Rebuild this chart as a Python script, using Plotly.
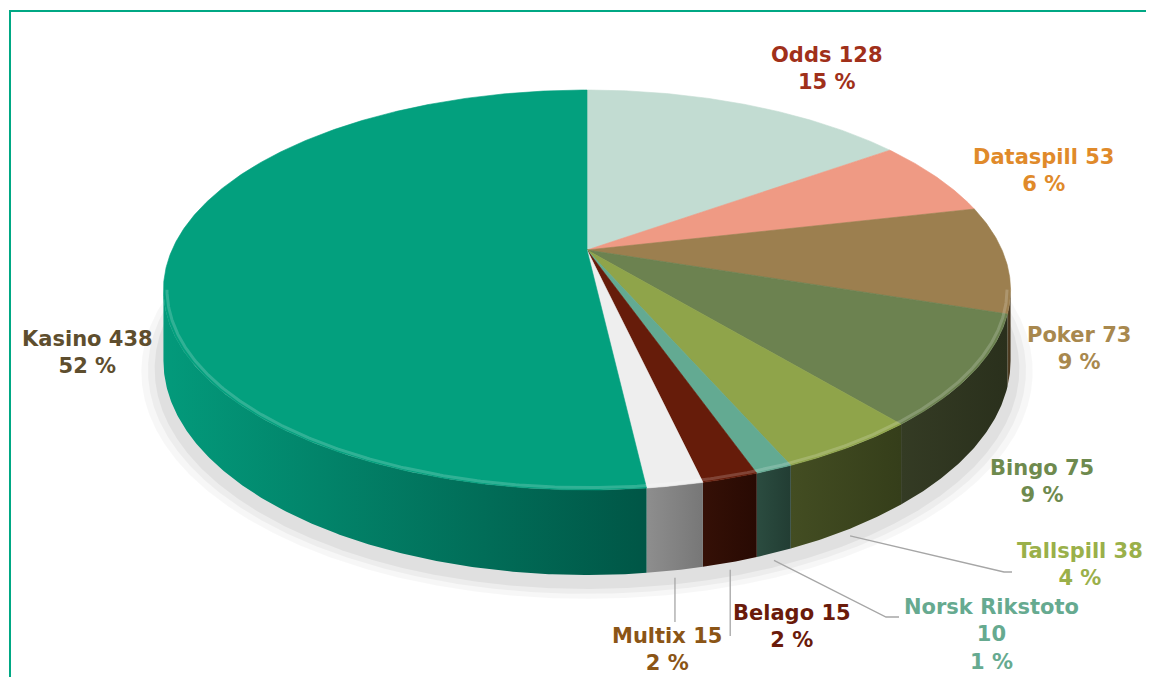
import math
import plotly.graph_objects as go

# ---------------- data ----------------
categories = ["Odds", "Dataspill", "Poker", "Bingo", "Tallspill",
              "Norsk Rikstoto", "Belago", "Multix", "Kasino"]
values = [128, 53, 73, 75, 38, 10, 15, 15, 438]

# ---------------- styles ----------------
top_colors = ["#C2DCD2", "#EF9A84", "#9C7F4F", "#6C8250", "#8FA44A",
              "#63AA92", "#661C0A", "#EEEEEE", "#03A07E"]
wall_light = ["#8FA8A0", "#B06A58", "#5A4628", "#343B24", "#434D22",
              "#2B4C40", "#351006", "#8E8E8E", "#039A7B"]
wall_dark = ["#7A928A", "#985848", "#3E301A", "#2A301C", "#353E1A",
             "#223D33", "#280A03", "#777777", "#005646"]
label_colors = ["#A0301A", "#E08A2A", "#A8884E", "#6E8A4E", "#9AB04A",
                "#66AA90", "#6A1A0A", "#8B5516", "#5E4E2E"]

# label block centres (page pixels) and leader-line end points
label_pos = [(827, 68), (1043, 170), (1079, 348), (1042, 481), (1080, 564),
             (991, 634), (792, 626), (667, 649), (87, 352)]
leader_end = [None, None, None, None, [(1004, 572), (1012, 572)],
              [(886, 617), (899, 617)], [(None, 636)], [(None, 622)], None]

# geometry of the projected 3-D pie (page pixels)
CX, CY = 587, 250      # projected pie centre
A, B = 415, 192        # horizontal / depth radii
P = 0.2                # perspective factor
DEPTH = 68             # thickness

def proj(theta, r=1.0, drop=0.0):
    X = r * math.sin(theta)
    Z = r * math.cos(theta)
    w = 1 + P * Z
    return CX + A * X / w, CY + (-B * Z + drop) / w

def arc(t1, t2, r=1.0, drop=0.0, step=0.4):
    n = max(2, int(abs(math.degrees(t2 - t1)) / step) + 1)
    pts = [proj(t1 + (t2 - t1) * i / (n - 1), r, drop) for i in range(n)]
    return [p[0] for p in pts], [p[1] for p in pts]

total = sum(values)
bounds = []
acc = 0
for v in values:
    t1 = 2 * math.pi * acc / total
    acc += v
    t2 = 2 * math.pi * acc / total
    bounds.append((t1, t2))

vis_lo = math.acos(-P)
vis_hi = 2 * math.pi - vis_lo

fig = go.Figure()

# soft drop shadow under the pie
for grow, alpha in [(1.05, 0.03), (1.035, 0.04), (1.02, 0.05)]:
    xs, ys = arc(0, 2 * math.pi, r=grow, drop=DEPTH + 6)
    fig.add_trace(go.Scatter(x=xs, y=ys, fill="toself", mode="lines",
                             line=dict(width=0), fillcolor=f"rgba(0,0,0,{alpha})",
                             hoverinfo="skip", showlegend=False))

# side walls (front-facing part only)
for i, (t1, t2) in enumerate(bounds):
    a1, a2 = max(t1, vis_lo), min(t2, vis_hi)
    if a2 <= a1:
        continue
    xt, yt = arc(a1, a2)
    xb, yb = arc(a1, a2, drop=DEPTH)
    xs = xt + xb[::-1] + [xt[0]]
    ys = yt + yb[::-1] + [yt[0]]
    fig.add_trace(go.Scatter(
        x=xs, y=ys, fill="toself", mode="lines", line=dict(width=0),
        fillgradient=dict(type="horizontal",
                          colorscale=[[0, wall_light[i]], [1, wall_dark[i]]]),
        hoverinfo="skip", showlegend=False))

# top faces
for i, (t1, t2) in enumerate(bounds):
    xa, ya = arc(t1, t2)
    xs = [CX] + xa + [CX]
    ys = [CY] + ya + [CY]
    fig.add_trace(go.Scatter(
        x=xs, y=ys, fill="toself", mode="lines",
        line=dict(width=0.6, color=top_colors[i]), fillcolor=top_colors[i],
        name=categories[i], hoverinfo="name", showlegend=False))

# rim highlight along the front edge of the top face
xh, yh = arc(vis_lo, vis_hi, r=0.992)
fig.add_trace(go.Scatter(x=xh, y=yh, mode="lines",
                         line=dict(color="rgba(255,255,255,0.18)", width=3),
                         hoverinfo="skip", showlegend=False))

# leader lines
for i, (t1, t2) in enumerate(bounds):
    if leader_end[i] is None:
        continue
    tm = (t1 + t2) / 2
    sx, sy = proj(tm, r=1.0, drop=DEPTH + 6)
    lx, ly = [sx], [sy]
    for ex, ey in leader_end[i]:
        lx.append(sx if ex is None else ex)
        ly.append(ey)
    fig.add_trace(go.Scatter(x=lx, y=ly, mode="lines",
                             line=dict(color="#A6A6A6", width=1.3),
                             hoverinfo="skip", showlegend=False))

# labels
annotations = []
for i, (c, v) in enumerate(zip(categories, values)):
    pct = round(v / total * 100)
    if c == "Norsk Rikstoto":
        txt = f"{c}<br>{v}<br>{pct} %"
    else:
        txt = f"{c} {v}<br>{pct} %"
    x, y = label_pos[i]
    annotations.append(dict(
        x=x, y=y, xref="x", yref="y", text=txt, showarrow=False,
        align="center", xanchor="center", yanchor="middle",
        font=dict(family="DejaVu Sans", size=21, color=label_colors[i], weight="bold")))

fig.update_layout(
    width=1146, height=669,
    margin=dict(l=0, r=0, t=0, b=0),
    paper_bgcolor="white", plot_bgcolor="white",
    xaxis=dict(range=[8, 1154], visible=False, fixedrange=True),
    yaxis=dict(range=[677, 8], visible=False, fixedrange=True),
    annotations=annotations,
    showlegend=False,
    shapes=[dict(type="rect", xref="x", yref="y", x0=10, x1=1300, y0=11, y1=800,
                 line=dict(color="#00A884", width=2), layer="above")],
)

fig.write_html("out.html")
